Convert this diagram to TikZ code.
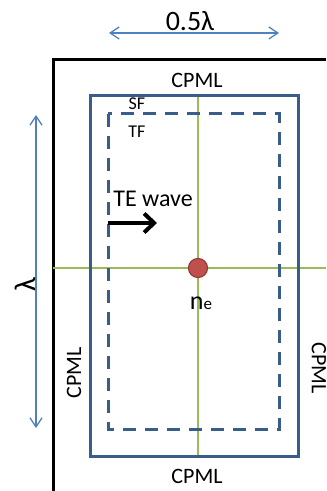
\documentclass[tikz,border=0pt]{standalone}
\usepackage{fontspec}
\setmainfont{Carlito}
\usetikzlibrary{arrows.meta}
\definecolor{frameblue}{RGB}{56,93,138}
\definecolor{dimblue}{RGB}{79,129,189}
\definecolor{axisgreen}{RGB}{155,187,89}
\definecolor{dotred}{RGB}{192,80,77}
\definecolor{dotedge}{RGB}{150,60,58}

\begin{document}
\begin{tikzpicture}[x=0.5pt,y=-0.5pt,
  lbl/.style={inner sep=0pt,font=\fontsize{11}{13}\selectfont},
  dim/.style={dimblue,line width=0.65pt,
    {Straight Barb[length=4.5pt,width=6pt]}-{Straight Barb[length=4.5pt,width=6pt]}},
  boundary/.style={frameblue,line width=1.5pt}]
  \useasboundingbox (0,0) rectangle (326,491);
  % computational domain, cut by the page edge
  \draw[line width=1.5pt] (326,60) -- (53,60) -- (53,491);
  % axes through the electron
  \draw[axisgreen,line width=0.65pt] (53,268) -- (326,268);
  \draw[axisgreen,line width=0.65pt] (198,96) -- (198,456);
  % SF and TF boundaries
  \draw[boundary] (90,96) rectangle (298,456);
  \draw[boundary,dash pattern=on 6.5pt off 4.5pt] (108,114) rectangle (279,429);
  % electron
  \node[circle,fill=dotred,draw=dotedge,line width=0.6pt,minimum size=9.5pt,inner sep=0pt] (dot) at (198,268) {};
  \node[inner sep=0pt,font=\fontsize{13}{15}\selectfont] (ne) at (201,303) {n{\fontsize{8.5}{9}\selectfont e}};
  % dimensions
  \coordinate (wl) at (109,33);
  \coordinate (wr) at (279,33);
  \coordinate (ht) at (36,115);
  \coordinate (hb) at (36,428);
  \draw[dim] (wl) -- (wr);
  \draw[dim] (ht) -- (hb);
  \node[inner sep=0pt,font=\fontsize{14}{16}\selectfont] (half) at (190,21) {0.5λ};
  \node[inner sep=0pt,font=\fontsize{15}{17}\selectfont,rotate=90] (lam) at (25,285) {λ};
  % layer labels
  \node[lbl] (cpmlT) at (197,80) {CPML};
  \node[lbl] (cpmlB) at (197,476) {CPML};
  \node[lbl,rotate=90] (cpmlL) at (74,373) {CPML};
  \node[lbl,rotate=-90] (cpmlR) at (319,368) {CPML};
  \node[inner sep=0pt,font=\fontsize{9}{11}\selectfont] (sf) at (137,104) {SF};
  \node[inner sep=0pt,font=\fontsize{9}{11}\selectfont] (tf) at (137,132) {TF};
  % incident wave
  \node[inner sep=0pt,font=\fontsize{12}{14}\selectfont] (te) at (153,199) {TE wave};
  \coordinate (ws) at (108,223);
  \coordinate (we) at (157,223);
  \draw[line width=2pt,-{Straight Barb[length=5pt,width=9.5pt]}] (ws) -- (we);
\end{tikzpicture}
\end{document}
